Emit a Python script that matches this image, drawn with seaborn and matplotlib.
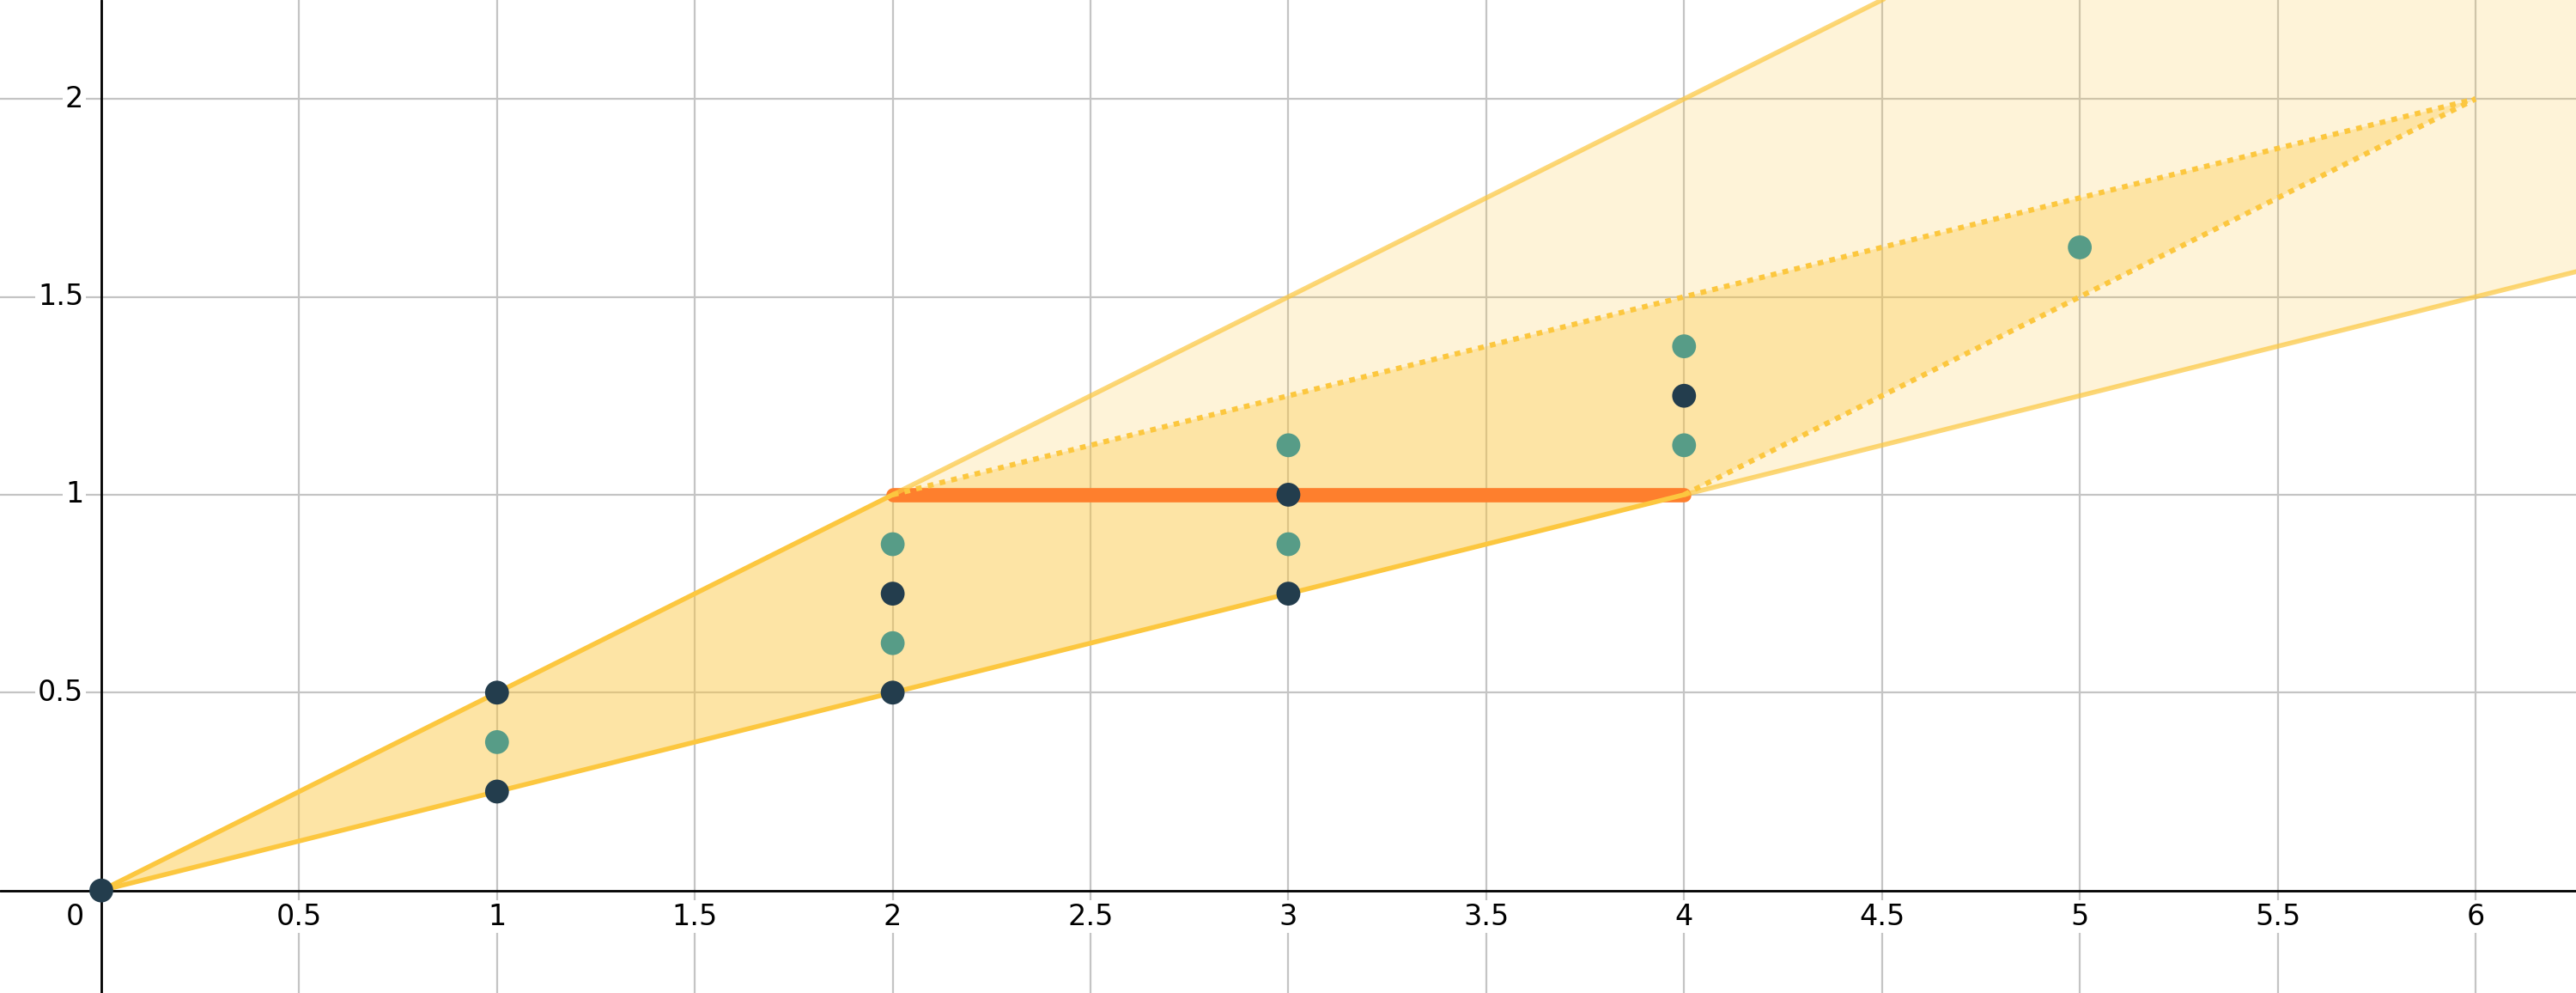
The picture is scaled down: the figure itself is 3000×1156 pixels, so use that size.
import numpy as np
import pandas as pd
import matplotlib
matplotlib.use("Agg")
import matplotlib.pyplot as plt
import seaborn as sns

# points lying in the cone
dark_x = [0, 1, 1, 2, 2, 3, 3, 4]
dark_y = [0, 0.5, 0.25, 0.75, 0.5, 1, 0.75, 1.25]
green_x = [1, 2, 2, 3, 3, 4, 4, 5]
green_y = [0.375, 0.875, 0.625, 1.125, 0.875, 1.375, 1.125, 1.625]

# boundary lines y = x/2 and y = x/4
upper_x = [0, 2]
upper_y = [0, 1]
lower_x = [0, 4]
lower_y = [0, 1]
upper_ext_x = [2, 10]
upper_ext_y = [1, 5]
lower_ext_x = [4, 10]
lower_ext_y = [1, 2.5]
dot_a_x = [2, 6]
dot_a_y = [1, 2]
dot_b_x = [4, 6]
dot_b_y = [1, 2]
seg_x = [2, 4]
seg_y = [1, 1]

# filled regions
cone_x = [0, 10, 10]
cone_y = [0, 5, 2.5]
quad_x = [0, 2, 6, 4]
quad_y = [0, 1, 2, 1]

xticks = [0.5, 1, 1.5, 2, 2.5, 3, 3.5, 4, 4.5, 5, 5.5, 6]
xtick_labels = ["0.5", "1", "1.5", "2", "2.5", "3", "3.5", "4", "4.5", "5", "5.5", "6"]
yticks = [0.5, 1, 1.5, 2]
ytick_labels = ["0.5", "1", "1.5", "2"]

YELLOW = "#fcc73f"
ORANGE = "#fe7f2d"
NAVY = "#233d4d"
GREEN = "#579c87"

sns.set_theme(style="white")
plt.rcParams['font.family'] = ['DejaVu Sans']

fig = plt.figure(figsize=(15, 5.78), dpi=200)
ax = fig.add_axes([0, 0, 1, 1])
ax.set_xlim(-0.256, 6.254)
ax.set_ylim(-0.259, 2.25)
ax.set_axis_off()

# grid
for gx in np.arange(0.5, 6.5, 0.5):
    ax.axvline(gx, color="#c4c4c4", lw=0.8, zorder=0)
for gy in np.arange(0.5, 2.5, 0.5):
    ax.axhline(gy, color="#c4c4c4", lw=0.8, zorder=0)
ax.axhline(0, color="black", lw=1.0, zorder=1)
ax.axvline(0, color="black", lw=1.0, zorder=1)

# fills
ax.fill(cone_x, cone_y, color=YELLOW, alpha=0.2, lw=0, zorder=2)
ax.fill(quad_x, quad_y, color=YELLOW, alpha=0.33, lw=0, zorder=2)

# orange segment
ax.plot(seg_x, seg_y, color=ORANGE, lw=6.0, solid_capstyle="round", zorder=3)

# yellow lines
lw = 2.0
ax.plot(upper_ext_x, upper_ext_y, color=YELLOW, lw=lw, alpha=0.7, zorder=4)
ax.plot(lower_ext_x, lower_ext_y, color=YELLOW, lw=lw, alpha=0.7, zorder=4)
ax.plot(upper_x, upper_y, color=YELLOW, lw=lw, zorder=4, solid_capstyle="round")
ax.plot(lower_x, lower_y, color=YELLOW, lw=lw, zorder=4, solid_capstyle="round")
for lx, ly in [(dot_a_x, dot_a_y), (dot_b_x, dot_b_y)]:
    ax.plot(lx, ly, color=YELLOW, lw=2.2, linestyle=(0, (1.1, 1.2)),
            dash_capstyle="butt", zorder=4)

# points
pts = pd.DataFrame({
    "x": dark_x + green_x,
    "y": dark_y + green_y,
    "grp": ["dark"] * len(dark_x) + ["green"] * len(green_x),
})
sns.scatterplot(data=pts, x="x", y="y", hue="grp",
                palette={"dark": NAVY, "green": GREEN},
                s=100, linewidth=0, legend=False, zorder=5, ax=ax)

# tick labels
fs = 12
box = dict(facecolor="white", edgecolor="none", pad=1.0)
for t, lab in zip(xticks, xtick_labels):
    ax.annotate(lab, (t, 0), xytext=(0, -11), textcoords="offset points",
                ha="center", va="center", fontsize=fs, color="black",
                bbox=box, zorder=6)
for t, lab in zip(yticks, ytick_labels):
    ax.annotate(lab, (0, t), xytext=(-7.5, 0), textcoords="offset points",
                ha="right", va="center", fontsize=fs, color="black",
                bbox=box, zorder=6)
ax.annotate("0", (0, 0), xytext=(-11, -11), textcoords="offset points",
            ha="center", va="center", fontsize=fs, color="black",
            bbox=box, zorder=6)

fig.savefig("out.png", dpi=200)
